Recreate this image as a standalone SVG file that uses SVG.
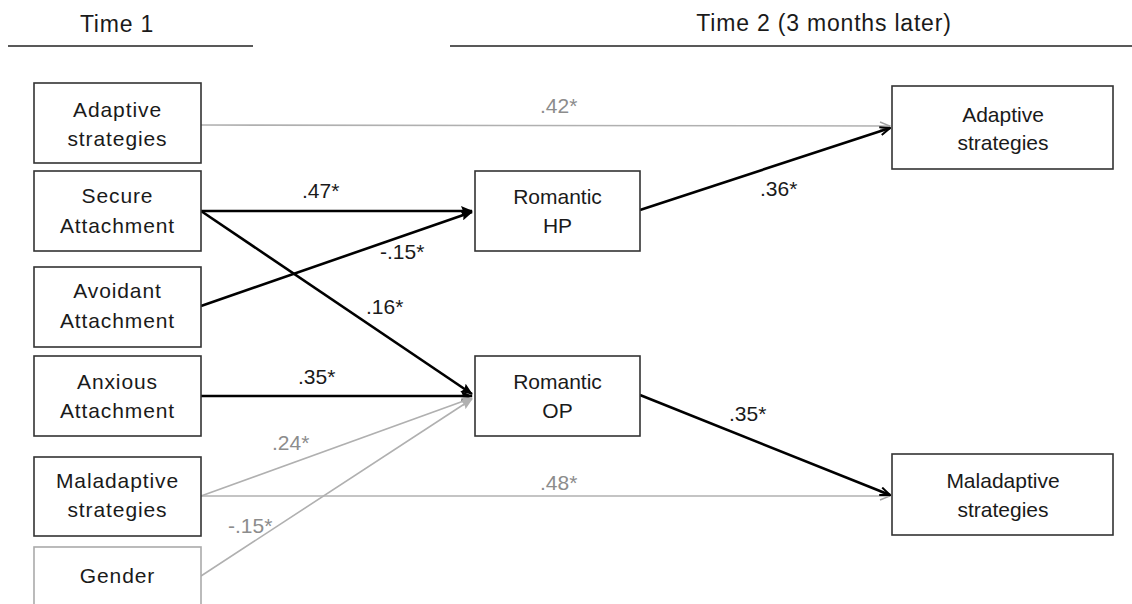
<svg xmlns="http://www.w3.org/2000/svg" width="1132" height="604" viewBox="0 0 1132 604">
<style>
text{font-family:"Liberation Sans",Arial,sans-serif;fill:#1a1a1a}
.hdr{font-size:23px;letter-spacing:0.8px;text-anchor:middle}
.box{fill:#fff;stroke:#333;stroke-width:1.6}
.gbox{fill:#fff;stroke:#aaa;stroke-width:1.6}
.lt{font-size:21px;letter-spacing:0.9px;text-anchor:middle}
.rt{font-size:21px;text-anchor:middle}
.lbl{font-size:21px}
.glbl{font-size:21px;fill:#8c8c8c}
.blk{stroke:#000;stroke-width:2.6;fill:none}
.gry{stroke:#b0b0b0;stroke-width:1.6;fill:none}
</style>
<defs>
<marker id="aBlk" viewBox="0 0 12 10" refX="11" refY="5" markerWidth="12" markerHeight="10" markerUnits="userSpaceOnUse" orient="auto">
<path d="M0,0 L12,5 L0,10 L2,5 z" fill="#000"/>
</marker>
<marker id="aGryF" viewBox="0 0 12 10" refX="11" refY="5" markerWidth="12" markerHeight="10" markerUnits="userSpaceOnUse" orient="auto">
<path d="M0,0 L12,5 L0,10 L2,5 z" fill="#b0b0b0"/>
</marker>
<marker id="oBlk" viewBox="0 0 12 10" refX="11" refY="5" markerWidth="12" markerHeight="10" markerUnits="userSpaceOnUse" orient="auto">
<path d="M1,1 L11,5 L1,9" fill="none" stroke="#000" stroke-width="2"/>
</marker>
<marker id="oGry" viewBox="0 0 12 10" refX="11" refY="5" markerWidth="12" markerHeight="10" markerUnits="userSpaceOnUse" orient="auto">
<path d="M1,1 L11,5 L1,9" fill="none" stroke="#a0a0a0" stroke-width="1.4"/>
</marker>
</defs>

<g id="headers">
<text class="hdr" x="117" y="32">Time 1</text>
<line x1="8" y1="46" x2="253" y2="46" stroke="#222" stroke-width="1.6"/>
<text class="hdr" x="824" y="31">Time 2 (3 months later)</text>
<line x1="450" y1="46" x2="1132" y2="46" stroke="#222" stroke-width="1.6"/>
</g>

<g id="connectors">
<line class="gry" x1="201" y1="125" x2="890" y2="126" marker-end="url(#oGry)"/>
<line class="blk" x1="201" y1="211" x2="472" y2="211" marker-end="url(#aBlk)"/>
<line class="blk" x1="201" y1="211" x2="472" y2="394" marker-end="url(#aBlk)"/>
<line class="blk" x1="201" y1="306" x2="472" y2="212" marker-end="url(#aBlk)"/>
<line class="blk" x1="201" y1="396" x2="472" y2="396" marker-end="url(#aBlk)"/>
<line class="gry" x1="201" y1="496" x2="472" y2="398" marker-end="url(#aGryF)"/>
<line class="gry" x1="201" y1="576" x2="472" y2="399" marker-end="url(#aGryF)"/>
<line class="gry" x1="201" y1="496" x2="890" y2="496" marker-end="url(#oGry)"/>
<line class="blk" x1="640" y1="210" x2="890" y2="128" marker-end="url(#oBlk)"/>
<line class="blk" x1="640" y1="395" x2="890" y2="495" marker-end="url(#oBlk)"/>
<text class="glbl" x="540" y="113">.42*</text>
<text class="lbl" x="302" y="198">.47*</text>
<text class="lbl" x="380" y="259">-.15*</text>
<text class="lbl" x="366" y="314">.16*</text>
<text class="lbl" x="298" y="384">.35*</text>
<text class="glbl" x="272" y="450">.24*</text>
<text class="glbl" x="228" y="533">-.15*</text>
<text class="lbl" x="760" y="196">.36*</text>
<text class="lbl" x="729" y="421">.35*</text>
<text class="glbl" x="540" y="490">.48*</text>
</g>

<g id="adaptive1">
<rect class="box" x="34" y="83" width="167" height="80"/>
<text class="lt" x="117.5" y="117">Adaptive</text>
<text class="lt" x="117.5" y="146">strategies</text>
</g>
<g id="secure">
<rect class="box" x="34" y="171" width="167" height="80"/>
<text class="lt" x="117.5" y="203">Secure</text>
<text class="lt" x="117.5" y="233">Attachment</text>
</g>
<g id="avoidant">
<rect class="box" x="34" y="267" width="167" height="80"/>
<text class="lt" x="117.5" y="298">Avoidant</text>
<text class="lt" x="117.5" y="328">Attachment</text>
</g>
<g id="anxious">
<rect class="box" x="34" y="356" width="167" height="80"/>
<text class="lt" x="117.5" y="389">Anxious</text>
<text class="lt" x="117.5" y="418">Attachment</text>
</g>
<g id="maladaptive1">
<rect class="box" x="34" y="457" width="167" height="79"/>
<text class="lt" x="117.5" y="488">Maladaptive</text>
<text class="lt" x="117.5" y="517">strategies</text>
</g>
<g id="gender">
<rect class="gbox" x="34" y="547" width="167" height="80"/>
<text class="lt" x="117.5" y="583">Gender</text>
</g>
<g id="romanticHP">
<rect class="box" x="475" y="171" width="165" height="80"/>
<text class="rt" x="557.5" y="204">Romantic</text>
<text class="rt" x="557.5" y="233">HP</text>
</g>
<g id="romanticOP">
<rect class="box" x="475" y="356" width="165" height="80"/>
<text class="rt" x="557.5" y="389">Romantic</text>
<text class="rt" x="557.5" y="418">OP</text>
</g>
<g id="adaptive2">
<rect class="box" x="892" y="86" width="221" height="83"/>
<text class="rt" x="1003" y="122">Adaptive</text>
<text class="rt" x="1003" y="150">strategies</text>
</g>
<g id="maladaptive2">
<rect class="box" x="892" y="454" width="221" height="81"/>
<text class="rt" x="1003" y="488">Maladaptive</text>
<text class="rt" x="1003" y="517">strategies</text>
</g>
</svg>
